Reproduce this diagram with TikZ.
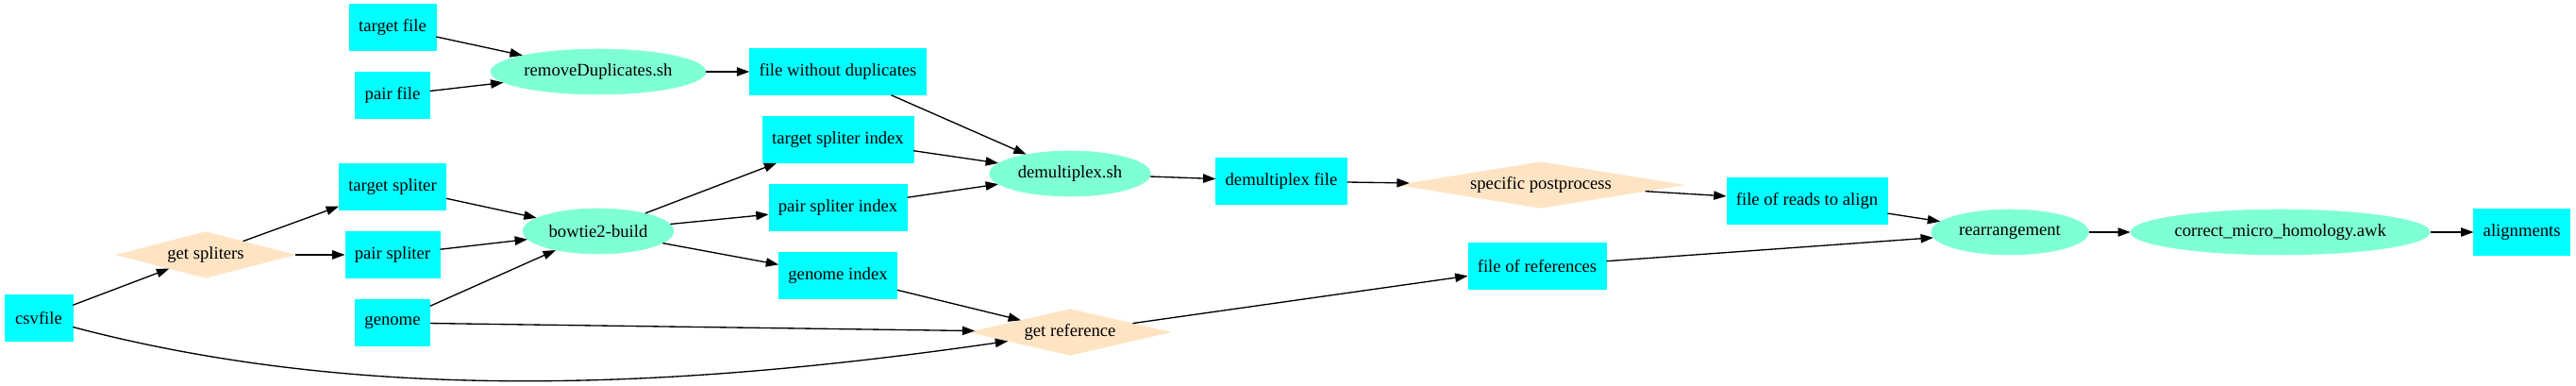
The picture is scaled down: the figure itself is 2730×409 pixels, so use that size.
\documentclass[tikz,border=0pt]{standalone}
\usepackage{fontspec}
\setmainfont{Liberation Serif}
\usetikzlibrary{shapes.geometric, arrows.meta}

\definecolor{filecyan}{HTML}{00FFFF}
\definecolor{aquamarine}{HTML}{7FFFD4}
\definecolor{bisque}{HTML}{FFE4C4}

\begin{document}
\begin{tikzpicture}[x=0.75pt, y=0.75pt, node distance=54pt,
  font=\fontsize{14}{16}\selectfont,
  datafile/.style={draw=filecyan, fill=filecyan, rectangle, minimum width=54pt, minimum height=36.75pt, inner xsep=7.5pt},
  script/.style={draw=aquamarine, fill=aquamarine, ellipse, minimum height=36pt, inner sep=0pt},
  action/.style={draw=bisque, fill=bisque, diamond, aspect=6, minimum height=36.75pt, inner sep=0pt},
  flow/.style={-{Triangle[length=10pt, width=7pt]}, line width=1pt}]

  \useasboundingbox (0,0) rectangle (2730,409);

  % Inputs
  \node[datafile] (csv) at (41,72) {csvfile};
  \node[action, minimum width=142pt] (getspl) at (218,139) {get spliters};

  % Third column
  \node[datafile] (tfile) at (416,380) {target file};
  \node[datafile, below of=tfile] (pfile) {pair file};
  \node[datafile] (tspl) at (416,211) {target spliter};
  \node[datafile, below of=tspl] (pspl) {pair spliter};
  \node[datafile, below of=pspl] (genome) {genome};

  % Scripts
  \node[script, minimum width=171pt] (rmdup) at (634,333) {removeDuplicates.sh};
  \node[script, minimum width=120pt] (bowtie) at (634,164) {bowtie2-build};

  % Fifth column
  \node[datafile] (nodup) at (888,333) {file without duplicates};
  \node[datafile, below of=nodup] (tidx) {target spliter index};
  \node[datafile, below of=tidx] (pidx) {pair spliter index};
  \node[datafile, below of=pidx] (gidx) {genome index};

  % Middle
  \node[script, minimum width=128pt] (demux) at (1134,225) {demultiplex.sh};
  \node[action, minimum width=160pt] (getref) at (1134,57) {get reference};
  \node[datafile] (dfile) at (1358,217) {demultiplex file};
  \node[action, minimum width=227pt] (post) at (1633,213) {specific postprocess};
  \node[datafile] (frefs) at (1629,127) {file of references};
  \node[datafile] (freads) at (1915,196) {file of reads to align};

  % Last row
  \node[script, minimum width=125pt] (rearr) at (2130,163) {rearrangement};
  \node[script, minimum width=237pt, right of=rearr, node distance=215pt] (correct) {correct\_micro\_homology.awk};
  \node[datafile, right of=correct, node distance=192pt] (align) {alignments};

  % Splitting
  \draw[flow] (csv) -- (getspl);
  \draw[flow] (getspl) -- (tspl);
  \draw[flow] (getspl) -- (pspl);
  \draw[flow] (csv) .. controls (379,-17) and (704,-5) .. (getref);

  % Duplicates
  \draw[flow] (tfile) -- (rmdup);
  \draw[flow] (pfile) -- (rmdup);
  \draw[flow] (rmdup) -- (nodup);

  % Index building
  \draw[flow] (tspl) -- (bowtie);
  \draw[flow] (pspl) -- (bowtie);
  \draw[flow] (genome) -- (bowtie);
  \draw[flow] (bowtie) -- (tidx);
  \draw[flow] (bowtie) -- (pidx);
  \draw[flow] (bowtie) -- (gidx);

  % Demultiplexing
  \draw[flow] (nodup) -- (demux);
  \draw[flow] (tidx) -- (demux);
  \draw[flow] (pidx) -- (demux);
  \draw[flow] (demux) -- (dfile);
  \draw[flow] (dfile) -- (post);
  \draw[flow] (post) -- (freads);

  % References
  \draw[flow] (gidx) -- (getref);
  \draw[flow] (genome) -- (getref);
  \draw[flow] (getref) -- (frefs);

  % Alignment
  \draw[flow] (freads) -- (rearr);
  \draw[flow] (frefs) -- (rearr);
  \draw[flow] (rearr) -- (correct);
  \draw[flow] (correct) -- (align);

\end{tikzpicture}
\end{document}
